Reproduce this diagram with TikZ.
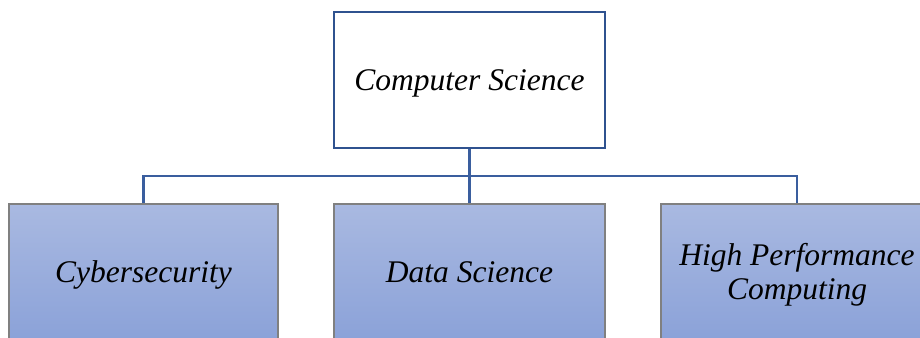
\documentclass[tikz,border=0pt]{standalone}
\usepackage{fontspec}
\setmainfont{Liberation Serif}
\definecolor{navy}{HTML}{2F528F}
\definecolor{linkblue}{HTML}{3A5E9E}
\definecolor{gtop}{HTML}{A9B9E1}
\definecolor{gbot}{HTML}{8AA1D8}
\definecolor{boxgray}{HTML}{808080}
\tikzset{
  lbl/.style={font=\fontsize{31.5}{34}\selectfont\itshape, align=center, text=black, inner sep=0pt},
  topbox/.style={draw=navy, line width=2.2pt, fill=white, minimum width=271pt, minimum height=136pt},
  subbox/.style={draw=boxgray, line width=1.4pt, top color=gtop, bottom color=gbot, minimum width=271pt, minimum height=140pt},
  conn/.style={draw=linkblue, line width=2.4pt}
}
\begin{document}
\begin{tikzpicture}[x=1pt,y=-1pt]
\useasboundingbox (0,0) rectangle (920,337);
\clip (0,0) rectangle (920,337);
\fill[white] (0,0) rectangle (920,337);
\node[topbox] (cs) at (469.5,80) {};
\node[subbox, minimum width=269pt] (cy) at (143.5,274) {};
\node[subbox] (ds) at (469.5,274) {};
\node[subbox, minimum width=272pt] (hpc) at (797,274) {};
\node[lbl, anchor=base] (cst) at (469.5,90.5) {Computer Science};
\node[lbl, anchor=base] (cyt) at (143.5,282.5) {Cybersecurity};
\node[lbl, anchor=base] (dst) at (469.5,282.5) {Data Science};
\node[lbl] (hpct) at (797,275) {High Performance\\Computing};
\coordinate (bus) at (469.5,176);
\draw[conn] (cs.south) -- (bus);
\draw[conn] (bus) -| (cy.north);
\draw[conn] (bus) -| (hpc.north);
\draw[conn] (bus) -- (ds.north);
\end{tikzpicture}
\end{document}
